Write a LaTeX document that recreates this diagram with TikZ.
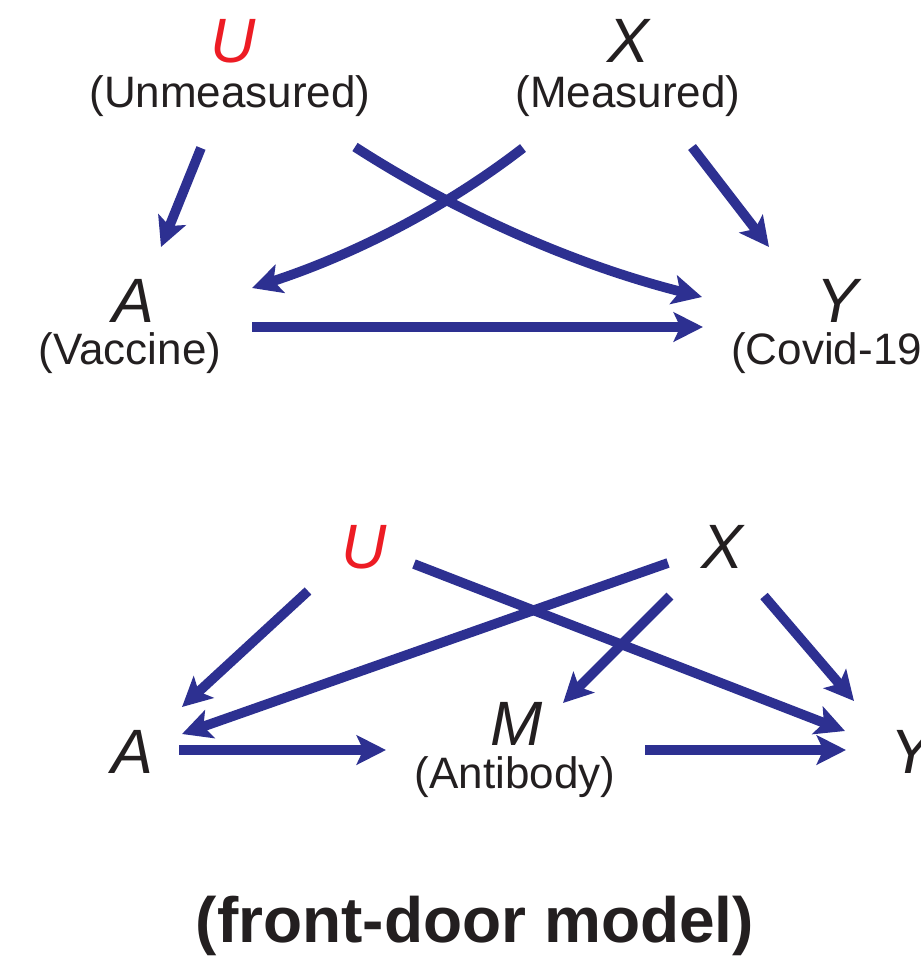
\documentclass[tikz,border=0pt]{standalone}
\usepackage{fontspec}
\setmainfont{Liberation Sans}
\usetikzlibrary{arrows.meta}
\definecolor{arrblue}{RGB}{45,48,145}
\definecolor{ured}{RGB}{237,28,36}
\definecolor{txt}{RGB}{35,31,32}
\begin{document}
\begin{tikzpicture}[x=0.75pt,y=-0.75pt,
  var/.style={font=\fontsize{47}{47}\selectfont\itshape, text=txt, inner sep=0pt, anchor=base, text height=34pt, text depth=0pt},
  lab/.style={font=\fontsize{33}{33}\selectfont, text=txt, inner sep=0pt, anchor=base, text height=23pt, text depth=6pt},
  ttl/.style={font=\fontsize{48}{48}\selectfont\bfseries, text=txt, inner sep=0pt, anchor=base},
  arr/.style={draw=arrblue, line width=7.3pt, -{Stealth[length=22pt,width=22pt,inset=5pt]}},
]
\useasboundingbox (0,0) rectangle (921,957);
\clip (0,0) rectangle (921,957);
\fill[white] (0,0) rectangle (921,957);

% ---------- top panel ----------
\node[var,text=ured] (U1) at (233,62) {U};
\node[lab] (U1l) at (230,107) {(Unmeasured)};
\node[var] (X1) at (628,62) {X};
\node[lab] (X1l) at (628,107) {(Measured)};
\node[var] (A1) at (133,322) {A};
\node[lab] (A1l) at (130,364) {(Vaccine)};
\node[var] (Y1) at (837,322) {Y};
\node[lab,anchor=base west] (Y1l) at (731,364) {(Covid-19)};

\coordinate (u1a) at (201,148);
\coordinate (a1u) at (161,247);
\coordinate (u1y) at (355,147);
\coordinate (y1u) at (702,297);
\coordinate (x1a) at (523,148);
\coordinate (a1x) at (252,288);
\coordinate (x1y) at (692,147);
\coordinate (y1x) at (769,247);
\coordinate (a1y) at (252,327);
\coordinate (y1a) at (703,327);

\draw[arr] (u1a) -- (a1u);
\draw[arr] (u1y) .. controls (456,212) and (572,264) .. (y1u);
\draw[arr] (x1a) .. controls (444,209) and (353,255) .. (a1x);
\draw[arr] (x1y) -- (y1x);
\draw[arr] (a1y) -- (y1a);

% ---------- bottom panel ----------
\node[var,text=ured] (U2) at (364,568) {U};
\node[var] (X2) at (722,568) {X};
\node[var] (A2) at (132,773) {A};
\node[var] (M2) at (517,745) {M};
\node[lab] (M2l) at (515,788) {(Antibody)};
\node[var] (Y2) at (911,773) {Y};

\coordinate (u2a) at (308,591);
\coordinate (a2u) at (182,707);
\coordinate (u2y) at (414,564);
\coordinate (y2u) at (845,731);
\coordinate (x2a) at (668,563);
\coordinate (a2x) at (182,734);
\coordinate (x2m) at (670,596);
\coordinate (m2x) at (563,703);
\coordinate (x2y) at (764,596);
\coordinate (y2x) at (854,701);
\coordinate (a2m) at (179,750);
\coordinate (m2a) at (386,750);
\coordinate (m2y) at (645,750);
\coordinate (y2m) at (846,750);

\draw[arr] (u2a) -- (a2u);
\draw[arr] (u2y) -- (y2u);
\draw[arr] (x2a) -- (a2x);
\draw[arr] (x2m) -- (m2x);
\draw[arr] (x2y) -- (y2x);
\draw[arr] (a2m) -- (m2a);
\draw[arr] (m2y) -- (y2m);

% ---------- title ----------
\node[ttl] (T) at (475,942) {(front-door model)};
\end{tikzpicture}
\end{document}
